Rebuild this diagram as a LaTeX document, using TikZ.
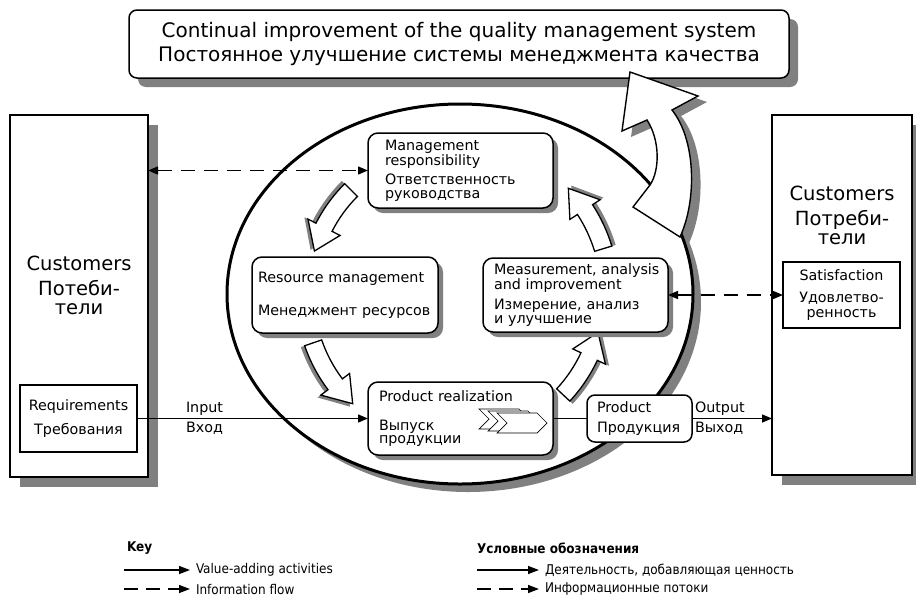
\documentclass[tikz,border=0pt]{standalone}
\usepackage{fontspec}
\setmainfont{DejaVu Sans}
\newfontfamily\legendfont{DejaVu Sans Condensed}
\usetikzlibrary{arrows.meta,calc,shadows,shapes.geometric}
\definecolor{shadowgray}{RGB}{128,128,128}

% curved block arrow of the process cycle: #1 options, #2 radius, #3 tail angle, #4 tip angle
\newcommand{\cyclearrow}[4]{%
  \path[#1] ($(cyc)+(#3:#2+9)$) arc[start angle=#3, end angle=#4-10, radius=#2+9]
    -- ($(cyc)+(#4-10:#2+18)$) -- ($(cyc)+(#4:#2)$) -- ($(cyc)+(#4-10:#2-18)$)
    -- ($(cyc)+(#4-10:#2-9)$) arc[start angle=#4-10, end angle=#3, radius=#2-9] -- cycle;}

% one chevron of the realization symbol, top-left corner at (#1,#2)
\newcommand{\chevshape}[2]{%
  \draw[chevline] (#1,#2) -- ++(40,0) -- ++(10,-10) -- ++(-10,-10) -- ++(-40,0) -- ++(10,10) -- cycle;}

% outline of the large improvement arrow
\newcommand{\bigarrowpath}{%
  (680,-237) .. controls (697,-200) and (696,-140) .. (672,-110) -- (698,-96) -- (630,-72)
  -- (622,-131) -- (647,-120) .. controls (660,-140) and (660,-170) .. (650,-185)
  -- (633,-207) -- cycle}

\begin{document}
\begin{tikzpicture}[x=1pt,y=1pt,
  every node/.style={inner sep=0pt, outer sep=0pt},
  frame/.style={draw, line width=1.5pt, fill=white},
  custbox/.style={frame, general shadow={fill=shadowgray, shadow xshift=10pt, shadow yshift=-10pt}},
  custtext/.style={align=center, font=\fontsize{19.5}{19}\selectfont},
  procbox/.style={frame, rounded corners=10pt, align=left, inner ysep=0pt,
    font=\fontsize{14.3}{13.5}\selectfont,
    general shadow={fill=shadowgray, shadow xshift=5pt, shadow yshift=-5pt}},
  plainbox/.style={frame, align=center, font=\fontsize{14.3}{14.5}\selectfont},
  topbox/.style={frame, rounded corners=8pt, align=center, font=\fontsize{20}{24}\selectfont,
    general shadow={fill=shadowgray, shadow xshift=9pt, shadow yshift=-9pt}},
  flowlabel/.style={align=left, font=\fontsize{14.3}{20}\selectfont},
  flow/.style={line width=1.4pt, -{Triangle[length=10pt,width=8pt]}},
  plainflow/.style={line width=1.4pt},
  info/.style={line width=1.4pt, dash pattern=on 14pt off 9pt,
    {Triangle[length=10pt,width=8pt]}-{Triangle[length=10pt,width=8pt]}},
  cyclebody/.style={draw, line width=1.3pt, fill=white, line join=miter},
  cycleshade/.style={fill=shadowgray},
  chevline/.style={line width=0.7pt, fill=white},
  legendtext/.style={anchor=west, font=\legendfont\fontsize{13.4}{16}\selectfont},
  keyflow/.style={line width=1.4pt, -{Triangle[length=11pt,width=8pt]}},
  keyinfo/.style={line width=1.4pt, dash pattern=on 14pt off 8pt, -{Triangle[length=11pt,width=8pt]}}
]
\fill[white] (0,0) rectangle (916,-606);
\useasboundingbox (0,0) rectangle (916,-606);

% heading box
\node[topbox, minimum width=660pt, minimum height=68pt] (improve) at (459,-44)
  {Continual improvement of the quality management system\\Постоянное улучшение системы менеджмента качества};

% customers on both sides
\node[custbox, minimum width=138pt, minimum height=362pt] (custL) at (79,-296) {};
\node[custbox, minimum width=140pt, minimum height=360pt] (custR) at (842,-295) {};
\node[custtext] (custLtxt) at (79,-285) {Customers\\[6pt]Потеби-\\тели};
\node[custtext] (custRtxt) at (842,-215) {Customers\\[6pt]Потреби-\\тели};
\node[plainbox, minimum width=117pt, minimum height=67pt] (req) at (78.5,-418.5)
  {Requirements\\[9pt]Требования};
\node[plainbox, minimum width=117pt, minimum height=66pt] (sat) at (841.5,-295)
  {Satisfaction\\[8pt]Удовлетво-\\ренность};

% the process loop
\coordinate (cyc) at (455,-294);
\fill[shadowgray, shift={(9,-6)}] \bigarrowpath;
\node[draw, ellipse, line width=3pt, fill=white, minimum width=466pt, minimum height=380pt,
  general shadow={fill=shadowgray, shadow xshift=8pt, shadow yshift=-8pt}] (loop) at (460,-294) {};
\draw[line width=1.4pt, fill=white, line join=miter] \bigarrowpath;

% cycle arrows between the processes
\cyclearrow{cycleshade}{151}{135}{163}
\cyclearrow{cyclebody}{147}{135}{163}
\cyclearrow{cycleshade}{154}{199}{227}
\cyclearrow{cyclebody}{150}{199}{227}
\cyclearrow{cycleshade}{152}{317}{345}
\cyclearrow{cyclebody}{148}{317}{345}
\cyclearrow{cycleshade}{159}{17}{43}
\cyclearrow{cyclebody}{155}{17}{43}

% processes
\node[procbox, minimum width=185pt, minimum height=75pt, text width=151pt, inner xsep=17pt] (mgmt)
  at (460.5,-170.5) {Management\\responsibility\\[5pt]Ответственность\\руководства};
\node[procbox, minimum width=186pt, minimum height=76pt, text width=174pt, inner xsep=6pt] (res)
  at (345,-295) {Resource management\\[19.5pt]Менеджмент ресурсов};
\node[procbox, minimum width=185pt, minimum height=74pt, text width=163pt, inner xsep=11pt] (meas)
  at (575.5,-295) {\mbox{Measurement, analysis}\\and improvement\\[6.5pt]Измерение, анализ\\и улучшение};
\node[procbox, minimum width=185pt, minimum height=73pt, text width=163pt, inner xsep=11pt] (real)
  at (460.5,-418.5) {Product realization\\[15.5pt]Выпуск\\продукции};
\node[frame, rounded corners=8pt, align=left, font=\fontsize{14.3}{13.5}\selectfont,
  minimum width=105pt, minimum height=47pt, text width=85pt, inner xsep=10pt] (product)
  at (639.5,-418.5) {Product\\[6.5pt]Продукция};

% realization symbol
\chevshape{479}{-409}
\chevshape{488}{-411}
\chevshape{497}{-413}

% flows
\draw[flow] (req.east) -- (real.west);
\draw[plainflow] (real.east) -- (product.west);
\draw[flow] (product.east) -- (product.east -| custR.west);
\draw[info] (mgmt.west -| custL.east) -- (mgmt.west);
\draw[info] (meas.east) -- (sat.west);
\node[flowlabel, anchor=west] (inlab) at (186,-418) {Input\\Вход};
\node[flowlabel, anchor=west] (outlab) at (695,-418) {Output\\Выход};

% key
\node[legendtext] (keyen) at (127,-548) {\bfseries Key};
\node[legendtext] (keyru) at (477,-548) {\bfseries Условные обозначения};
\node[legendtext] (valen) at (196,-570) {Value-adding activities};
\node[legendtext] (infen) at (196,-589) {Information flow};
\node[legendtext] (valru) at (545,-570) {Деятельность, добавляющая ценность};
\node[legendtext] (infru) at (545,-589) {Информационные потоки};
\coordinate (valenS) at (124,-570);
\coordinate (infenS) at (124,-589);
\coordinate (valruS) at (477,-570);
\coordinate (infruS) at (477,-589);
\draw[keyflow] (valenS) -- ([xshift=-6pt]valen.west);
\draw[keyinfo] (infenS) -- ([xshift=-6pt]infen.west);
\draw[keyflow] (valruS) -- ([xshift=-6pt]valru.west);
\draw[keyinfo] (infruS) -- ([xshift=-6pt]infru.west);
\end{tikzpicture}
\end{document}
